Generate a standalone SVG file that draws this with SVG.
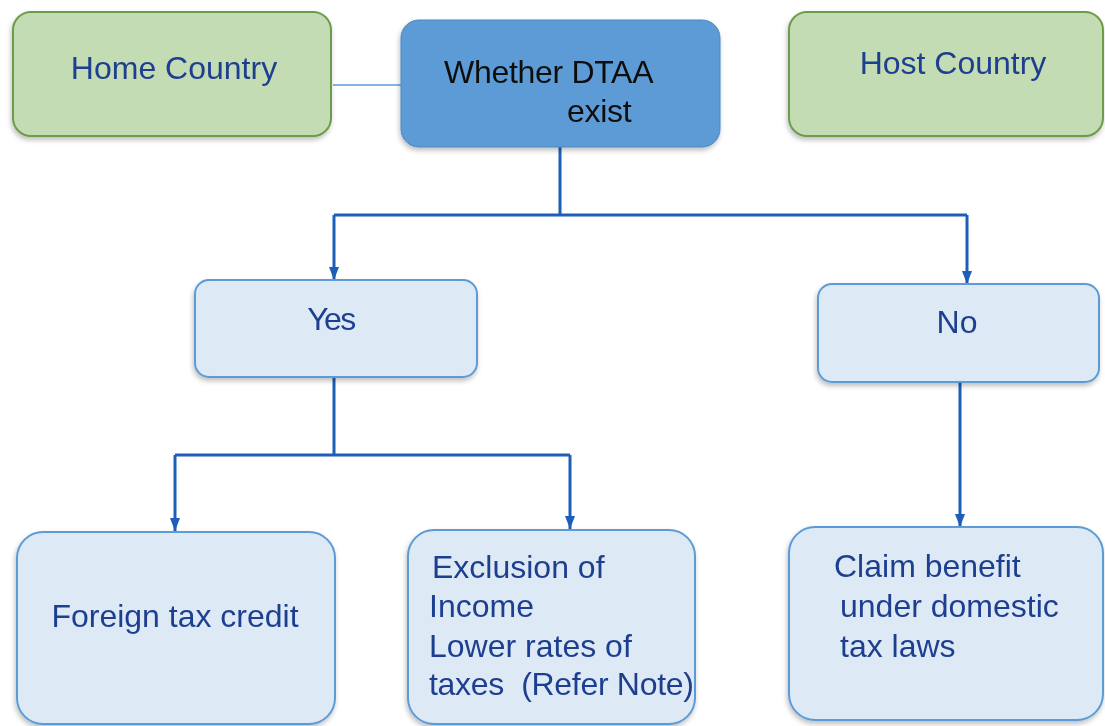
<svg xmlns="http://www.w3.org/2000/svg" width="1105" height="726" viewBox="0 0 1105 726">
  <style>
    .green { fill: #c4dcb3; stroke: #6c9c4a; stroke-width: 2; }
    .decision { fill: #5b9bd5; stroke: #4a87c0; stroke-width: 1; }
    .light { fill: #dde9f5; stroke: #5b9bd5; stroke-width: 2; }
    .label { font-family: "Liberation Sans", Arial, sans-serif; font-size: 32px; fill: #1f3f8f; }
    .dark { fill: #111111; }
    .flow { fill: none; stroke: #1d5fb8; stroke-width: 3; }
    .link { fill: none; stroke: #5b9bd5; stroke-width: 1.5; }
  </style>
  <defs>
    <marker id="arrowDown" markerUnits="userSpaceOnUse" markerWidth="12" markerHeight="14" viewBox="0 0 12 14" refX="6" refY="13" orient="0">
      <path d="M1,0 L11,0 L6,13 Z" fill="#1d5fb8"/>
    </marker>
    <filter id="shadow" x="-10%" y="-10%" width="120%" height="125%">
      <feDropShadow dx="-1" dy="3" stdDeviation="2.5" flood-color="#000000" flood-opacity="0.25"/>
    </filter>
  </defs>

  <!-- connectors -->
  <g id="connectors">
    <line class="link" x1="333" y1="85" x2="401" y2="85"/>
    <path class="flow" d="M560,147 V215 M334,215 H967"/>
    <path class="flow" d="M334,215 V280" marker-end="url(#arrowDown)"/>
    <path class="flow" d="M967,215 V284" marker-end="url(#arrowDown)"/>
    <path class="flow" d="M334,377 V455 M175,455 H570"/>
    <path class="flow" d="M175,455 V531" marker-end="url(#arrowDown)"/>
    <path class="flow" d="M570,455 V529" marker-end="url(#arrowDown)"/>
    <path class="flow" d="M960,382 V527" marker-end="url(#arrowDown)"/>
  </g>

  <!-- top row -->
  <g id="home-country" filter="url(#shadow)">
    <rect class="green" x="13" y="12" width="318" height="124" rx="18"/>
    <text class="label" x="174" y="79" text-anchor="middle">Home Country</text>
  </g>
  <g id="dtaa" filter="url(#shadow)">
    <rect class="decision" x="401" y="20" width="319" height="127" rx="18"/>
    <text class="label dark" x="444" y="83" font-size="30" letter-spacing="-0.3">Whether DTAA</text>
    <text class="label dark" x="567" y="122" font-size="30" letter-spacing="-0.3">exist</text>
  </g>
  <g id="host-country" filter="url(#shadow)">
    <rect class="green" x="789" y="12" width="314" height="124" rx="18"/>
    <text class="label" x="953" y="74" text-anchor="middle">Host Country</text>
  </g>

  <!-- answers -->
  <g id="yes" filter="url(#shadow)">
    <rect class="light" x="195" y="280" width="282" height="97" rx="14"/>
    <text class="label" x="331" y="330" text-anchor="middle" letter-spacing="-1.5">Yes</text>
  </g>
  <g id="no" filter="url(#shadow)">
    <rect class="light" x="818" y="284" width="281" height="98" rx="14"/>
    <text class="label" x="957" y="333" text-anchor="middle">No</text>
  </g>

  <!-- outcomes -->
  <g id="foreign-tax-credit" filter="url(#shadow)">
    <rect class="light" x="17" y="532" width="318" height="192" rx="26"/>
    <text class="label" x="175" y="627" text-anchor="middle">Foreign tax credit</text>
  </g>
  <g id="exclusion" filter="url(#shadow)">
    <rect class="light" x="408" y="530" width="287" height="194" rx="26"/>
    <text class="label" x="432" y="578">Exclusion of</text>
    <text class="label" x="429" y="617">Income</text>
    <text class="label" x="429" y="657">Lower rates of</text>
    <text class="label" x="429" y="695" xml:space="preserve" letter-spacing="-0.3">taxes  (Refer Note)</text>
  </g>
  <g id="domestic-benefit" filter="url(#shadow)">
    <rect class="light" x="789" y="527" width="314" height="193" rx="26"/>
    <text class="label" x="834" y="577">Claim benefit</text>
    <text class="label" x="840" y="617">under domestic</text>
    <text class="label" x="840" y="657">tax laws</text>
  </g>
</svg>
